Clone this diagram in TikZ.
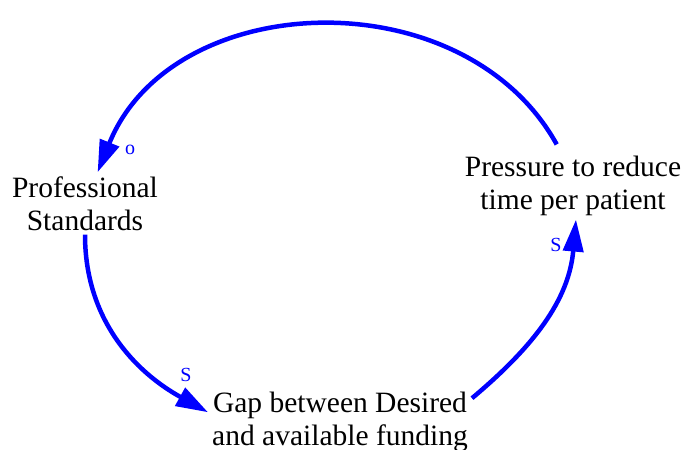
\documentclass[tikz,border=0pt]{standalone}
\usepackage{fontspec}
\setmainfont{Liberation Serif}
\usetikzlibrary{arrows.meta}
\definecolor{LoopBlue}{RGB}{0,0,255}

\begin{document}
\begin{tikzpicture}[x=1pt,y=1pt,>={Triangle[length=32pt,width=20pt]},
  var/.style={align=center,inner sep=4pt,font=\fontsize{29.5}{33}\selectfont},
  link/.style={->,line width=4.5pt,LoopBlue},
  pol/.style={LoopBlue,inner sep=0pt,font=\fontsize{20}{22}\selectfont}]
  \useasboundingbox (0,0) rectangle (686,450);
  % variables
  \node[var] (prof) at (85,246.5) {Professional\\Standards};
  \node[var] (gap) at (340,28.5) {Gap between Desired\\and available funding};
  \node[var] (press) at (573,264.5) {Pressure to reduce\\time per patient};
  % causal links
  \draw[link,shorten <=8pt] (press.110) to[out=119,in=68,looseness=1.1] (prof.68);
  \draw[link] (prof.south) to[out=270,in=151] (gap.176);
  \draw[link] (gap.10) to[out=40,in=265] (press.-85);
  % polarities
  \node[pol] (polo) at (130,300) {o};
  \node[pol] (polsa) at (186,75) {S};
  \node[pol] (polsb) at (556,205) {S};
\end{tikzpicture}
\end{document}
